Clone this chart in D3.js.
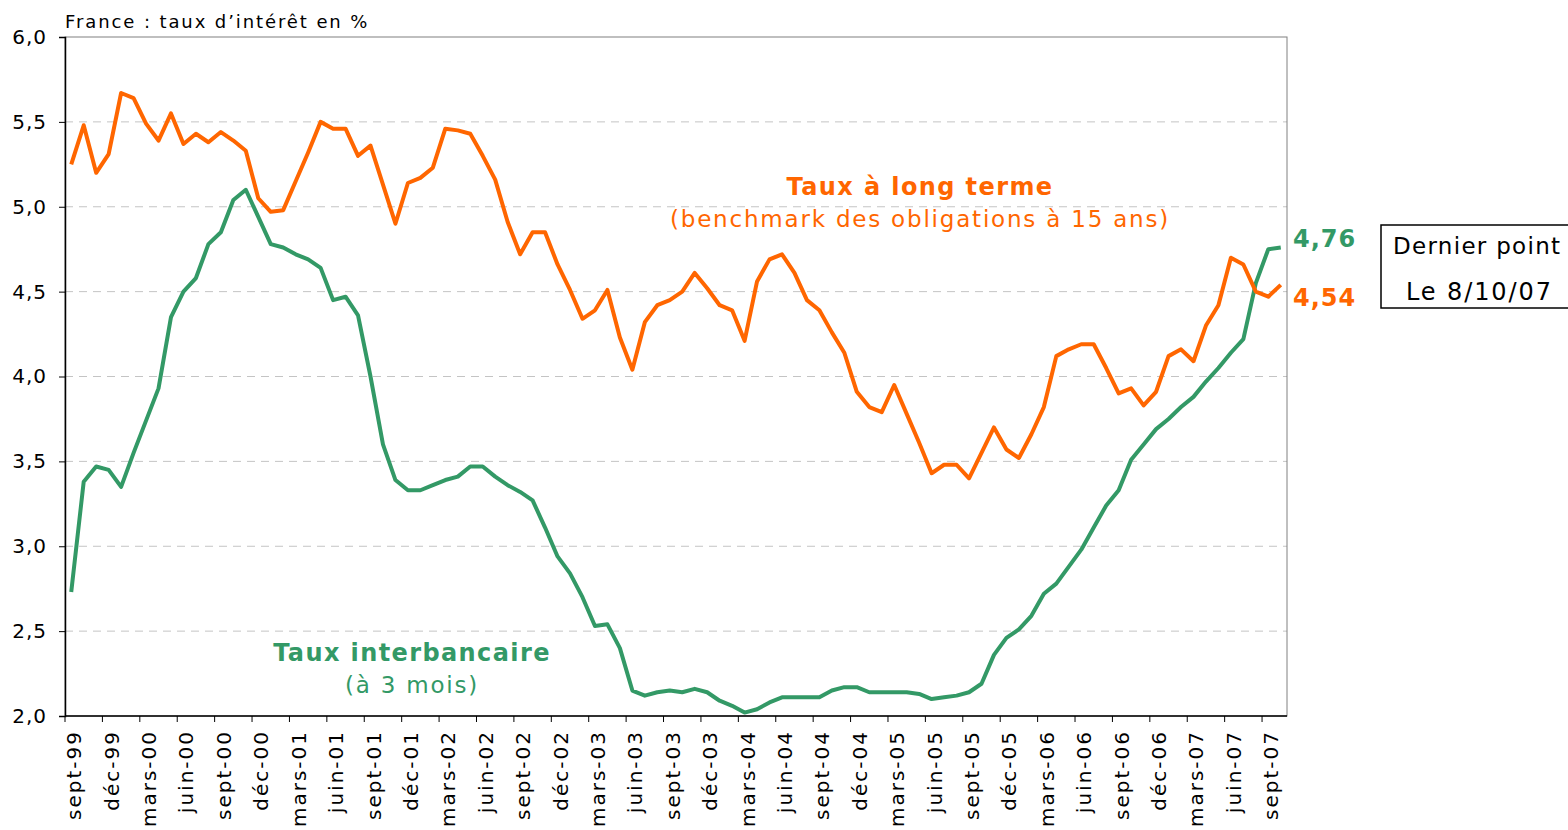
<!DOCTYPE html>
<html>
<head>
<meta charset="utf-8">
<script src="https://cdn.jsdelivr.net/npm/d3@7"></script>
<style>
  body { margin: 0; background: #fff; }
  svg text { font-family: "DejaVu Sans", Verdana, sans-serif; }
</style>
</head>
<body>
<svg id="chart" width="1568" height="830"></svg>
<script>
// Monthly series, sept-99 .. oct-07 (98 points)
var firstMonth = new Date(1999, 8, 1);
var monthCount = 98;

// Taux à long terme (benchmark 15 ans)
var longRate = [
    5.25, 5.48, 5.20, 5.31, 5.67, 5.64, 5.49, 5.39, 5.55, 5.37,
    5.43, 5.38, 5.44, 5.39, 5.33, 5.05, 4.97, 4.98, 5.15, 5.32,
    5.50, 5.46, 5.46, 5.30, 5.36, 5.13, 4.90, 5.14, 5.17, 5.23,
    5.46, 5.45, 5.43, 5.30, 5.16, 4.91, 4.72, 4.85, 4.85, 4.66,
    4.51, 4.34, 4.39, 4.51, 4.23, 4.04, 4.32, 4.42, 4.45, 4.50,
    4.61, 4.52, 4.42, 4.39, 4.21, 4.56, 4.69, 4.72, 4.61, 4.45,
    4.39, 4.26, 4.14, 3.91, 3.82, 3.79, 3.95, 3.78, 3.61, 3.43,
    3.48, 3.48, 3.40, 3.55, 3.70, 3.57, 3.52, 3.66, 3.82, 4.12,
    4.16, 4.19, 4.19, 4.05, 3.90, 3.93, 3.83, 3.91, 4.12, 4.16,
    4.09, 4.30, 4.42, 4.70, 4.66, 4.50, 4.47, 4.54
];

// Taux interbancaire à 3 mois
var interbankRate = [
    2.73, 3.38, 3.47, 3.45, 3.35, 3.55, 3.74, 3.93, 4.35, 4.50,
    4.58, 4.78, 4.85, 5.04, 5.10, 4.94, 4.78, 4.76, 4.72, 4.69,
    4.64, 4.45, 4.47, 4.36, 4.00, 3.60, 3.39, 3.33, 3.33, 3.36,
    3.39, 3.41, 3.47, 3.47, 3.41, 3.36, 3.32, 3.27, 3.11, 2.94,
    2.84, 2.70, 2.53, 2.54, 2.40, 2.15, 2.12, 2.14, 2.15, 2.14,
    2.16, 2.14, 2.09, 2.06, 2.02, 2.04, 2.08, 2.11, 2.11, 2.11,
    2.11, 2.15, 2.17, 2.17, 2.14, 2.14, 2.14, 2.14, 2.13, 2.10,
    2.11, 2.12, 2.14, 2.19, 2.36, 2.46, 2.51, 2.59, 2.72, 2.78,
    2.88, 2.98, 3.11, 3.24, 3.33, 3.51, 3.60, 3.69, 3.75, 3.82,
    3.88, 3.97, 4.05, 4.14, 4.22, 4.55, 4.75, 4.76
];

// one label every 3 months
var tickLabels = [
    "sept-99", "déc-99", "mars-00", "juin-00", "sept-00", "déc-00",
    "mars-01", "juin-01", "sept-01", "déc-01", "mars-02", "juin-02",
    "sept-02", "déc-02", "mars-03", "juin-03", "sept-03", "déc-03",
    "mars-04", "juin-04", "sept-04", "déc-04", "mars-05", "juin-05",
    "sept-05", "déc-05", "mars-06", "juin-06", "sept-06", "déc-06",
    "mars-07", "juin-07", "sept-07"
];

var yTicks = [2.0, 2.5, 3.0, 3.5, 4.0, 4.5, 5.0, 5.5, 6.0];

var orange = "#ff6600";
var green = "#339966";

var svg = d3.select("#chart");
var plotLeft = 65, plotRight = 1287, plotTop = 37, plotBottom = 716;

var months = d3.range(monthCount).map(function (i) { return d3.timeMonth.offset(firstMonth, i); });

var x = d3.scaleBand()
    .domain(d3.range(monthCount))
    .range([plotLeft, plotRight])
    .paddingInner(0).paddingOuter(0);
var y = d3.scaleLinear().domain([2, 6]).range([plotBottom, plotTop]);

var cx = function (i) { return x(i) + x.bandwidth() / 2; };

// grid lines
svg.append("g")
    .selectAll("line")
    .data(yTicks.filter(function (d) { return d > 2 && d < 6; }))
    .enter()
    .append("line")
    .attr("x1", plotLeft).attr("x2", plotRight)
    .attr("y1", d => y(d)).attr("y2", d => y(d))
    .attr("stroke", "#c4c4c4")
    .attr("stroke-width", 1)
    .attr("stroke-dasharray", "8,6");

// plot frame
svg.append("rect")
    .attr("x", plotLeft).attr("y", plotTop)
    .attr("width", plotRight - plotLeft).attr("height", plotBottom - plotTop)
    .attr("fill", "none")
    .attr("stroke", "#808080")
    .attr("stroke-width", 1);

// y axis
var yAxis = d3.axisLeft(y)
    .tickValues(yTicks)
    .tickSize(6)
    .tickPadding(12)
    .tickFormat(function (d) { return d3.format(".1f")(d).replace(".", ","); });

var gy = svg.append("g")
    .attr("transform", "translate(" + plotLeft + ",0)")
    .call(yAxis);
gy.select(".domain").attr("stroke", "#000").attr("stroke-width", 1.5);
gy.selectAll(".tick line").attr("stroke", "#000");
gy.selectAll(".tick text")
    .attr("font-family", "DejaVu Sans")
    .attr("font-size", "20px")
    .attr("letter-spacing", "1px")
    .attr("fill", "#000");

// x axis (ticks between categories, every 3 months)
svg.append("line")
    .attr("x1", plotLeft).attr("x2", plotRight)
    .attr("y1", plotBottom).attr("y2", plotBottom)
    .attr("stroke", "#000").attr("stroke-width", 1.5);

var tickIdx = tickLabels.map(function (d, k) { return k * 3; });

svg.append("g")
    .selectAll("line")
    .data(tickIdx)
    .enter()
    .append("line")
    .attr("x1", d => x(d)).attr("x2", d => x(d))
    .attr("y1", plotBottom).attr("y2", plotBottom + 6)
    .attr("stroke", "#000");

svg.append("g")
    .selectAll("text")
    .data(tickIdx)
    .enter()
    .append("text")
    .attr("transform", d => "translate(" + (cx(d) + 3) + "," + (plotBottom + 14) + ") rotate(-90)")
    .attr("text-anchor", "end")
    .attr("dy", "0.35em")
    .attr("font-size", "20px")
    .attr("letter-spacing", "2px")
    .attr("fill", "#000")
    .text(function (d, k) { return tickLabels[k]; });

// lines
var line = d3.line()
    .x(function (d, i) { return cx(i); })
    .y(function (d) { return y(d); });

svg.append("path")
    .datum(interbankRate)
    .attr("d", line)
    .attr("fill", "none")
    .attr("stroke", green)
    .attr("stroke-width", 4)
    .attr("stroke-linejoin", "round");

svg.append("path")
    .datum(longRate)
    .attr("d", line)
    .attr("fill", "none")
    .attr("stroke", orange)
    .attr("stroke-width", 4)
    .attr("stroke-linejoin", "round");

// title
svg.append("text")
    .attr("x", 65).attr("y", 28)
    .attr("font-size", "18px")
    .attr("letter-spacing", "1.9px")
    .attr("fill", "#000")
    .text("France : taux d\u2019intérêt en %");

// series annotations
svg.append("text")
    .attr("x", 920).attr("y", 195)
    .attr("text-anchor", "middle")
    .attr("font-size", "24px").attr("font-weight", "bold")
    .attr("letter-spacing", "1.4px")
    .attr("fill", orange)
    .text("Taux à long terme");
svg.append("text")
    .attr("x", 920).attr("y", 227)
    .attr("text-anchor", "middle")
    .attr("font-size", "23px")
    .attr("letter-spacing", "1.8px")
    .attr("fill", orange)
    .text("(benchmark des obligations à 15 ans)");

svg.append("text")
    .attr("x", 412).attr("y", 661)
    .attr("text-anchor", "middle")
    .attr("font-size", "24px").attr("font-weight", "bold")
    .attr("letter-spacing", "1.4px")
    .attr("fill", green)
    .text("Taux interbancaire");
svg.append("text")
    .attr("x", 412).attr("y", 693)
    .attr("text-anchor", "middle")
    .attr("font-size", "23px")
    .attr("letter-spacing", "1.8px")
    .attr("fill", green)
    .text("(à 3 mois)");

// last values
var fmt = function (v) { return d3.format(".2f")(v).replace(".", ","); };
svg.append("text")
    .attr("x", 1293).attr("y", 247)
    .attr("font-size", "24px").attr("font-weight", "bold")
    .attr("letter-spacing", "1px")
    .attr("fill", green)
    .text(fmt(interbankRate[interbankRate.length - 1]));
svg.append("text")
    .attr("x", 1293).attr("y", 306)
    .attr("font-size", "24px").attr("font-weight", "bold")
    .attr("letter-spacing", "1px")
    .attr("fill", orange)
    .text(fmt(longRate[longRate.length - 1]));

// "Dernier point" box
svg.append("rect")
    .attr("x", 1381).attr("y", 225)
    .attr("width", 200).attr("height", 83)
    .attr("fill", "#fff")
    .attr("stroke", "#000").attr("stroke-width", 1.5);
svg.append("text")
    .attr("x", 1393).attr("y", 254)
    .attr("font-size", "23px")
    .attr("letter-spacing", "1.3px")
    .attr("fill", "#000")
    .text("Dernier point");
svg.append("text")
    .attr("x", 1406).attr("y", 300)
    .attr("font-size", "24px")
    .attr("letter-spacing", "1.9px")
    .attr("fill", "#000")
    .text("Le 8/10/07");
</script>
</body>
</html>
